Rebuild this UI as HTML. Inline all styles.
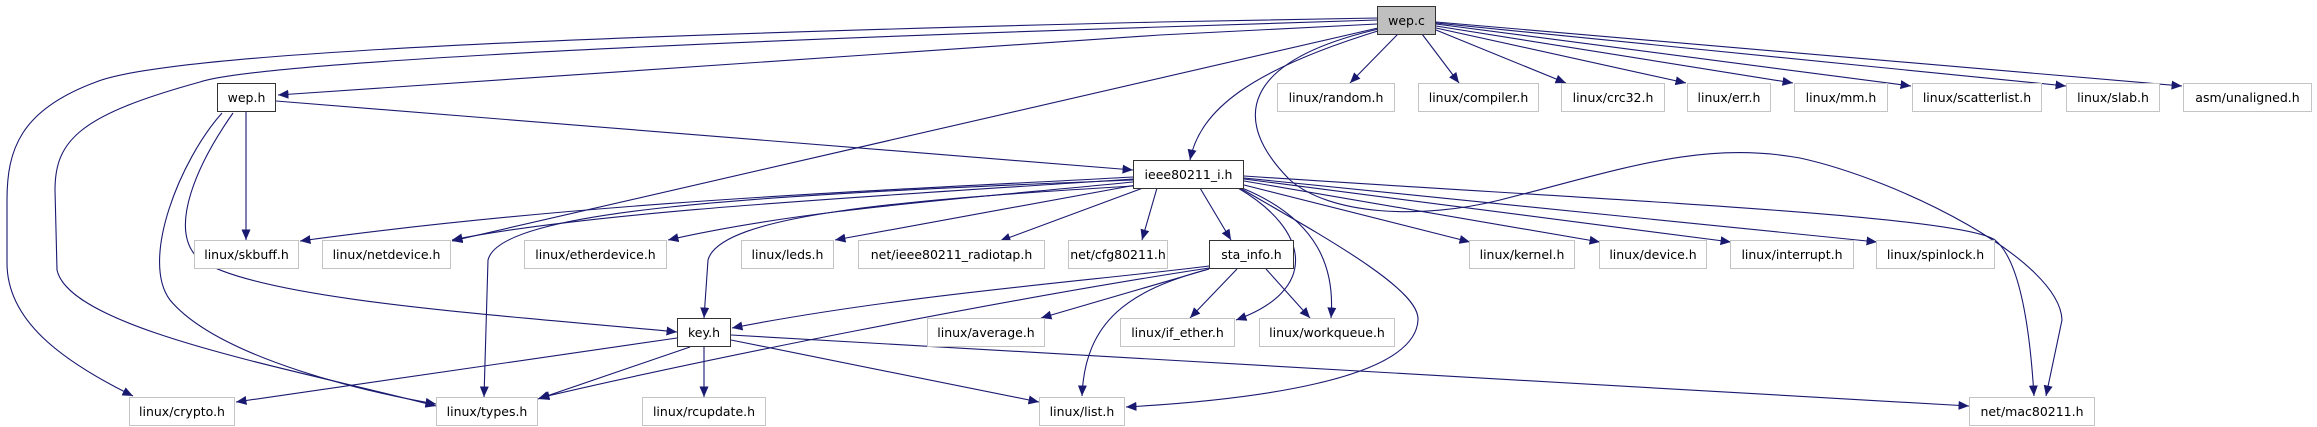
<!DOCTYPE html>
<html><head><meta charset="utf-8"><style>
html,body{margin:0;padding:0;background:#fff;}
body{width:2317px;height:427px;position:relative;overflow:hidden;font-family:"DejaVu Sans","Liberation Sans",sans-serif;}
.n{position:absolute;box-sizing:border-box;border:1.5px solid #c4c4c4;background:#fff;font-size:12.5px;color:#000;display:flex;align-items:center;justify-content:center;white-space:nowrap;}
.b{border:1.5px solid #333;}
.g{background:#bfbfbf;border:1.5px solid #333;}
svg{position:absolute;left:0;top:0;}
</style></head><body>
<svg width="2317" height="427" viewBox="0 0 2317 427">
<defs><marker id="a" markerUnits="userSpaceOnUse" markerWidth="12" markerHeight="10" refX="10.5" refY="4.5" orient="auto"><path d="M0,0 L10.5,4.5 L0,9 z" fill="#191970"/></marker></defs>
<g fill="none" stroke="#191970" stroke-width="1.1" marker-end="url(#a)">
<path d="M1377,24 L1160,35 L278,95"/>
<path d="M1377,18 L1160,22 C400,40 150,60 96,82 C20,110 7,150 7,200 L7,263 C7,320 60,360 133,396"/>
<path d="M1377,20 L1160,27 C600,45 250,65 200,82 C80,115 55,140 55,190 L57,270 C70,330 300,370 436,406"/>
<path d="M1381,30 C1250,70 1200,110 1190,160"/>
<path d="M1378,28 L452,241"/>
<path d="M1383,28 C1240,60 1230,120 1290,180 C1330,215 1420,220 1500,200 C1620,170 1700,140 1800,158 C1900,180 2060,260 2062,320 L2046,396"/>
<path d="M1398,34 L1350,83"/>
<path d="M1422,34 L1459,83"/>
<path d="M1436,30 L1566,83"/>
<path d="M1436,28 L1686,83"/>
<path d="M1436,26 L1793,83"/>
<path d="M1436,24 L1911,86"/>
<path d="M1436,23 L2066,86"/>
<path d="M1436,22 L2182,86"/>
<path d="M276,101 L1133,170"/>
<path d="M246,112 L246,240"/>
<path d="M233,113 C200,160 165,230 200,260 C260,300 500,315 677,332"/>
<path d="M222,113 C180,160 140,260 170,300 C220,360 380,395 436,404"/>
<path d="M1133,177 C900,190 600,200 300,241"/>
<path d="M1133,179 C900,195 600,210 452,240"/>
<path d="M1133,182 C950,200 800,210 668,240"/>
<path d="M1136,185 L835,240"/>
<path d="M1143,188 L1000,241"/>
<path d="M1133,180 C750,195 500,210 488,260 L484,397"/>
<path d="M1133,186 C900,200 720,215 708,260 L704,318"/>
<path d="M1157,188 L1142,240"/>
<path d="M1200,188 L1231,240"/>
<path d="M1238,188 C1310,230 1320,290 1236,320"/>
<path d="M1242,188 C1320,220 1335,270 1331,318"/>
<path d="M1240,188 C1330,240 1420,290 1418,320 C1415,380 1250,400 1126,407"/>
<path d="M1244,185 L1470,242"/>
<path d="M1244,181 L1600,242"/>
<path d="M1244,179 L1731,242"/>
<path d="M1244,178 L1877,242"/>
<path d="M1244,176 C1600,200 1960,215 1995,240 C2020,260 2030,330 2034,396"/>
<path d="M1209,266 C1100,280 900,295 732,328"/>
<path d="M1209,268 C1000,300 700,360 539,398"/>
<path d="M1209,269 L1041,318"/>
<path d="M1209,269 C1130,290 1085,320 1082,396"/>
<path d="M1237,269 L1190,318"/>
<path d="M1266,269 L1310,318"/>
<path d="M677,338 L236,402"/>
<path d="M690,347 L538,399"/>
<path d="M704,347 L704,397"/>
<path d="M731,340 L1039,402"/>
<path d="M731,335 L1969,406"/>
</g>
</svg>
<div class="n g" style="left:1377px;top:6px;width:59px;height:29px;">wep.c</div>
<div class="n b" style="left:217px;top:83px;width:59px;height:29px;">wep.h</div>
<div class="n" style="left:1277px;top:83px;width:118px;height:29px;">linux/random.h</div>
<div class="n" style="left:1418px;top:83px;width:121px;height:29px;">linux/compiler.h</div>
<div class="n" style="left:1561px;top:83px;width:104px;height:29px;">linux/crc32.h</div>
<div class="n" style="left:1687px;top:83px;width:84px;height:29px;">linux/err.h</div>
<div class="n" style="left:1794px;top:83px;width:94px;height:29px;">linux/mm.h</div>
<div class="n" style="left:1912px;top:83px;width:130px;height:29px;">linux/scatterlist.h</div>
<div class="n" style="left:2066px;top:83px;width:94px;height:29px;">linux/slab.h</div>
<div class="n" style="left:2183px;top:83px;width:129px;height:29px;">asm/unaligned.h</div>
<div class="n b" style="left:1133px;top:160px;width:111px;height:29px;">ieee80211_i.h</div>
<div class="n" style="left:194px;top:240px;width:105px;height:29px;">linux/skbuff.h</div>
<div class="n" style="left:322px;top:240px;width:129px;height:29px;">linux/netdevice.h</div>
<div class="n" style="left:524px;top:240px;width:143px;height:29px;">linux/etherdevice.h</div>
<div class="n" style="left:741px;top:240px;width:93px;height:29px;">linux/leds.h</div>
<div class="n" style="left:858px;top:240px;width:187px;height:29px;">net/ieee80211_radiotap.h</div>
<div class="n" style="left:1068px;top:240px;width:100px;height:29px;">net/cfg80211.h</div>
<div class="n b" style="left:1209px;top:240px;width:85px;height:29px;">sta_info.h</div>
<div class="n" style="left:1469px;top:240px;width:106px;height:29px;">linux/kernel.h</div>
<div class="n" style="left:1599px;top:240px;width:108px;height:29px;">linux/device.h</div>
<div class="n" style="left:1730px;top:240px;width:124px;height:29px;">linux/interrupt.h</div>
<div class="n" style="left:1876px;top:240px;width:119px;height:29px;">linux/spinlock.h</div>
<div class="n b" style="left:677px;top:318px;width:54px;height:29px;">key.h</div>
<div class="n" style="left:927px;top:318px;width:118px;height:29px;">linux/average.h</div>
<div class="n" style="left:1120px;top:318px;width:115px;height:29px;">linux/if_ether.h</div>
<div class="n" style="left:1259px;top:318px;width:136px;height:29px;">linux/workqueue.h</div>
<div class="n" style="left:129px;top:397px;width:106px;height:29px;">linux/crypto.h</div>
<div class="n" style="left:436px;top:397px;width:102px;height:29px;">linux/types.h</div>
<div class="n" style="left:642px;top:397px;width:124px;height:29px;">linux/rcupdate.h</div>
<div class="n" style="left:1039px;top:397px;width:86px;height:29px;">linux/list.h</div>
<div class="n" style="left:1969px;top:397px;width:126px;height:29px;">net/mac80211.h</div>
</body></html>
